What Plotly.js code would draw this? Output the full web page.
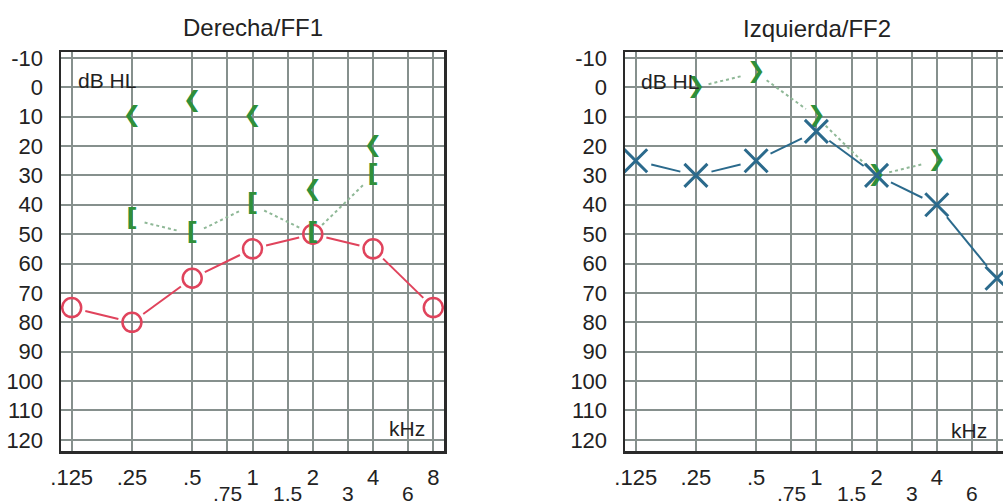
<!DOCTYPE html>
<html>
<head>
<meta charset="utf-8">
<script src="https://cdn.plot.ly/plotly-3.0.1.min.js"></script>
<style>
  html, body { margin: 0; padding: 0; background: #ffffff; }
  #chart { width: 1003px; height: 504px; }
</style>
</head>
<body>
<div id="chart"></div>
<script>
// Test frequencies (kHz) and hearing thresholds (dB HL)
const airFreqs = [0.125, 0.25, 0.5, 1, 2, 4, 8];
const boneFreqs = [0.25, 0.5, 1, 2, 4];

// Derecha / FF1
const rightAir = [75, 80, 65, 55, 50, 55, 75];
const rightBoneUnmasked = [10, 5, 10, 35, 20];
const rightBoneMasked = [45, 50, 40, 50, 30];

// Izquierda / FF2
const leftAir = [25, 30, 25, 15, 30, 40, 65];
const leftBoneUnmasked = [0, -5, 10, 30, 25];

// Axis ticks
const gridFreqs = [0.125, 0.25, 0.5, 0.75, 1, 1.5, 2, 3, 4, 6, 8];
const upperFreqLabels = ['.125', '.25', '.5', '', '1', '', '2', '', '4', '', '8'];
const lowerFreqs = [0.75, 1.5, 3, 6];
const lowerFreqLabels = ['.75', '1.5', '3', '6'];
const dbTicks = [-10, 0, 10, 20, 30, 40, 50, 60, 70, 80, 90, 100, 110, 120];

const W = 1003, H = 504;
const FONT = 'Liberation Sans, Arial, sans-serif';
const INK = '#222222';
const GRID = '#86908d';
const BORDER = '#2a2a2a';
const RED = '#e0435c';
const BLUE = '#2b6a8c';
const GREEN = '#2f8f3a';
const DOTS = '#8fb897';

const yRange = [123.8, -12];
const yDomain = [(H - 451) / H, (H - 52) / H];
const x1Domain = [61 / W, 444 / W];
const x1Range = [-0.9565, 0.9565];
const x2Domain = [625 / W, 1];
const x2Range = [-0.9566, 0.9331];

// Pixel scale of an axis, used to open small gaps where lines meet symbols
function scales(xDom, xRng) {
  const pxPerDecade = (xDom[1] - xDom[0]) * W / (xRng[1] - xRng[0]);
  const pxPerDb = (yDomain[1] - yDomain[0]) * H / (yRange[0] - yRange[1]);
  return { pxPerDecade, pxPerDb };
}

function gappedLine(xs, ys, sc, gap) {
  const gx = [], gy = [];
  for (let i = 0; i < xs.length - 1; i++) {
    const lx0 = Math.log10(xs[i]), lx1 = Math.log10(xs[i + 1]);
    const dx = (lx1 - lx0) * sc.pxPerDecade;
    const dy = (ys[i + 1] - ys[i]) * sc.pxPerDb;
    const len = Math.hypot(dx, dy);
    const ux = dx / len, uy = dy / len;
    gx.push(Math.pow(10, lx0 + ux * gap / sc.pxPerDecade));
    gy.push(ys[i] + uy * gap / sc.pxPerDb);
    gx.push(Math.pow(10, lx1 - ux * gap / sc.pxPerDecade));
    gy.push(ys[i + 1] - uy * gap / sc.pxPerDb);
    gx.push(null); gy.push(null);
  }
  return { x: gx, y: gy };
}

const sc1 = scales(x1Domain, x1Range);
const sc2 = scales(x2Domain, x2Range);

const rLine = gappedLine(airFreqs, rightAir, sc1, 14);
const rDots = gappedLine(boneFreqs, rightBoneMasked, sc1, 13);
const lLine = gappedLine(airFreqs, leftAir, sc2, 16);
const lDots = gappedLine(boneFreqs, leftBoneUnmasked, sc2, 13);

const SYMFONT = 'DejaVu Sans, sans-serif';

const traces = [
  // Derecha
  { x: rDots.x, y: rDots.y, xaxis: 'x', yaxis: 'y', mode: 'lines',
    line: { color: DOTS, width: 2, dash: 'dot' }, hoverinfo: 'skip' },
  { x: rLine.x, y: rLine.y, xaxis: 'x', yaxis: 'y', mode: 'lines',
    line: { color: RED, width: 2 }, hoverinfo: 'skip' },
  { x: airFreqs, y: rightAir, xaxis: 'x', yaxis: 'y', mode: 'markers',
    marker: { symbol: 'circle-open', size: 19, color: RED, line: { width: 2.5, color: RED } } },
  { x: boneFreqs, y: rightBoneUnmasked, xaxis: 'x', yaxis: 'y', mode: 'text',
    text: boneFreqs.map(() => '❮'), textposition: 'middle center',
    textfont: { family: SYMFONT, size: 22, color: GREEN } },
  { x: boneFreqs, y: rightBoneMasked, xaxis: 'x', yaxis: 'y', mode: 'text',
    text: boneFreqs.map(() => '['), textposition: 'middle center',
    textfont: { family: SYMFONT, size: 25, color: GREEN, weight: 'bold' } },
  // Izquierda
  { x: lDots.x, y: lDots.y, xaxis: 'x2', yaxis: 'y2', mode: 'lines',
    line: { color: DOTS, width: 2, dash: 'dot' }, hoverinfo: 'skip' },
  { x: lLine.x, y: lLine.y, xaxis: 'x2', yaxis: 'y2', mode: 'lines',
    line: { color: BLUE, width: 2 }, hoverinfo: 'skip' },
  { x: boneFreqs, y: leftBoneUnmasked, xaxis: 'x2', yaxis: 'y2', mode: 'text',
    text: boneFreqs.map(() => '❯'), textposition: 'middle center',
    textfont: { family: SYMFONT, size: 22, color: GREEN } },
  { x: airFreqs, y: leftAir, xaxis: 'x2', yaxis: 'y2', mode: 'markers',
    marker: { symbol: 'x-thin-open', size: 23, color: BLUE, line: { width: 3, color: BLUE } } }
];

function xAxis(dom, rng, anchor, mirror) {
  return {
    domain: dom, range: rng, type: 'log', anchor: anchor,
    tickmode: 'array', tickvals: gridFreqs, ticktext: upperFreqLabels,
    ticks: '', ticklabelstandoff: 5,
    tickfont: { family: FONT, size: 22, color: INK },
    showgrid: true, gridcolor: GRID, gridwidth: 2,
    showline: true, linecolor: BORDER, linewidth: 2.5, mirror: mirror,
    zeroline: false, fixedrange: true, automargin: false
  };
}
function yAxis(anchor, mirror) {
  return {
    domain: yDomain, range: yRange, anchor: anchor,
    tickmode: 'array', tickvals: dbTicks, ticktext: dbTicks.map(String),
    ticks: '', ticklabelstandoff: 11,
    tickfont: { family: FONT, size: 22, color: INK },
    showgrid: true, gridcolor: GRID, gridwidth: 2,
    showline: true, linecolor: BORDER, linewidth: 2.5, mirror: mirror,
    zeroline: false, fixedrange: true, automargin: false
  };
}

const annotations = [];
function txt(text, x, y, size, xanchor, xref) {
  annotations.push({ text: text, x: x, y: y, xref: xref || 'paper', yref: 'paper',
    xanchor: xanchor || 'center', yanchor: 'middle', showarrow: false,
    font: { family: FONT, size: size, color: INK } });
}
txt('Derecha/FF1', 253 / W, 1 - 27 / H, 24);
txt('Izquierda/FF2', 817 / W, 1 - 28 / H, 24);
txt('dB HL', 76 / W, 1 - 81 / H, 21, 'left');
txt('dB HL', 639 / W, 1 - 82 / H, 21, 'left');
txt('kHz', 407 / W, 1 - 428 / H, 21);
txt('kHz', 969 / W, 1 - 430 / H, 21);
lowerFreqs.forEach((f, i) => {
  txt(lowerFreqLabels[i], Math.log10(f), 1 - 493 / H, 21, 'center', 'x');
  txt(lowerFreqLabels[i], Math.log10(f), 1 - 493 / H, 21, 'center', 'x2');
});

const layout = {
  width: W, height: H,
  margin: { l: 0, r: 0, t: 0, b: 0, pad: 0 },
  paper_bgcolor: '#ffffff', plot_bgcolor: '#ffffff',
  showlegend: false,
  xaxis: xAxis(x1Domain, x1Range, 'y', true),
  yaxis: yAxis('x', true),
  xaxis2: xAxis(x2Domain, x2Range, 'y2', true),
  yaxis2: yAxis('x2', false),
  annotations: annotations
};

Plotly.newPlot('chart', traces, layout, { staticPlot: true, displayModeBar: false });
</script>
</body>
</html>
